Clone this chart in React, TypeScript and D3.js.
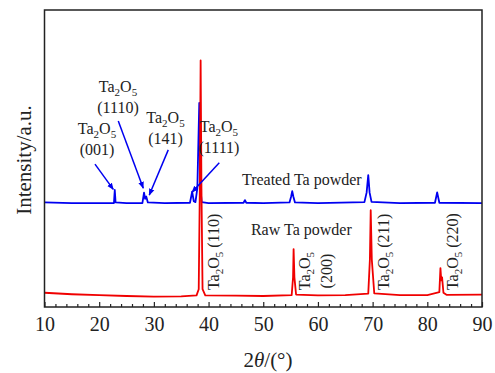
import React, { useEffect, useRef } from 'react';
import * as d3 from 'd3';

// XRD patterns: [2theta (deg), intensity (a.u.)]
const treatedPattern: [number, number][] = [
  [10, 35.2], [15, 35.0], [20, 35.0], [22.7, 35.0], [22.85, 39.4], [23.0, 35.2],
  [25, 35.0], [27.9, 35.0], [28.2, 38.5], [28.4, 36.4], [28.6, 37.2], [28.9, 35.2],
  [32, 35.0], [36.6, 35.1], [37.0, 38.8], [37.3, 35.6], [37.6, 35.3], [37.95, 40],
  [38.3, 68.7], [38.5, 40], [38.75, 35.3], [40, 35.0], [46.4, 35.1], [46.65, 36.0],
  [46.9, 35.1], [50, 35.0], [54.8, 35.2], [55.1, 37.2], [55.3, 39.0], [55.5, 37.2], [55.8, 35.2], [60, 35.0],
  [68.5, 35.3], [68.9, 38.5], [69.2, 44.4], [69.45, 38.5], [69.8, 35.4], [75, 35.0], [81.4, 35.1], [81.8, 38.6],
  [82.2, 35.1], [90, 35.0],
];

const rawPattern: [number, number][] = [
  [10, 4.8], [15, 4.3], [20, 4.0], [25, 3.7], [30, 3.5], [35, 3.6], [37.8, 3.9],
  [38.2, 6], [38.4, 40], [38.55, 83], [38.7, 40], [38.9, 6], [39.4, 3.9], [45, 3.8],
  [50, 3.7], [55.2, 4.0], [55.45, 10], [55.55, 19.5], [55.7, 10], [56.0, 4.2],
  [60, 3.9], [65, 4.0], [69.2, 4.5], [69.5, 16], [69.65, 32.6], [69.85, 16],
  [70.3, 4.6], [75, 4.0], [80, 4.0], [82.2, 5], [82.4, 13.1], [82.55, 9], [82.7, 10],
  [82.95, 4.8], [83.5, 4.1], [90, 4.2],
];

const xTicks = [10, 20, 30, 40, 50, 60, 70, 80, 90];
const xMinorTicks = d3.range(12, 90, 2).filter(v => v % 10 !== 0);

// treated-powder annotations: hkl, label anchor [2theta, I], arrow tail, arrow tip
const treatedHkl = ['(001)', '(1110)', '(141)', '(1111)'];
const treatedLabelAt: [number, number][] = [[19.6, 58.2], [23.44, 72.5], [32.12, 62.05], [41.9, 59.0]];
const treatedArrowFrom: [number, number][] = [[19.23, 48.1], [23.49, 62.6], [32.63, 52.9], [41.96, 48.6]];
const treatedArrowTo: [number, number][] = [[22.58, 39.6], [28.06, 40.0], [29.16, 37.7], [36.97, 38.6]];

// raw-powder annotations (rotated)
const rawHkl = ['(110)', '(200)', '(211)', '(220)'];
const rawLabelAt: [number, number][] = [[41.96, 5.7], [58.54, 12.1], [73.07, 5.7], [85.6, 5.7]];

const W = 495;
const H = 373;
const MARGIN = { top: 10, right: 13, bottom: 66, left: 44.5 };
const FONT = '"Liberation Serif", "Times New Roman", serif';
const TEXT = '#222';

const Ta2O5: React.FC<{ rest?: string }> = ({ rest }) => (
  <>
    <tspan>Ta</tspan>
    <tspan fontSize={11} dy={4}>2</tspan>
    <tspan dy={-4}>O</tspan>
    <tspan fontSize={11} dy={4}>5</tspan>
    {rest ? <tspan dy={-4}>{rest}</tspan> : null}
  </>
);

const App: React.FC = () => {
  const axisRef = useRef<SVGGElement | null>(null);

  const x = d3.scaleLinear().domain([10, 90]).range([MARGIN.left, W - MARGIN.right]);
  const y = d3.scaleLinear().domain([0, 100]).range([H - MARGIN.bottom, MARGIN.top]);
  const line = d3.line<[number, number]>().x(d => x(d[0])).y(d => y(d[1]));

  useEffect(() => {
    const g = d3.select(axisRef.current);
    g.selectAll('*').remove();
    g.append('g')
      .call(d3.axisBottom(x).tickValues(xTicks).tickSize(-5).tickPadding(10).tickFormat(d3.format('d')))
      .call(s => s.select('.domain').remove())
      .call(s => s.selectAll('text').attr('font-family', FONT).attr('font-size', 20).attr('fill', TEXT))
      .call(s => s.selectAll('line').attr('stroke', '#222').attr('stroke-width', 1.2));
    g.append('g')
      .call(d3.axisBottom(x).tickValues(xMinorTicks).tickSize(-3).tickFormat(() => ''))
      .call(s => s.select('.domain').remove())
      .call(s => s.selectAll('line').attr('stroke', '#222').attr('stroke-width', 1.2));
  }, []);

  const plotBottom = H - MARGIN.bottom;

  return (
    <svg width={W} height={H} style={{ position: 'absolute', left: 0, top: 0, background: '#fff' }}>
      <defs>
        <marker id="arrowhead" viewBox="0 0 10 10" refX="9" refY="5" markerWidth="7" markerHeight="7"
          orient="auto-start-reverse" markerUnits="userSpaceOnUse">
          <path d="M0,1 L10,5 L0,9 z" fill="#0000f0" />
        </marker>
      </defs>

      <path d={line(treatedPattern) ?? ''} fill="none" stroke="#0000f0" strokeWidth={1.8} strokeLinejoin="round" />
      <path d={line(rawPattern) ?? ''} fill="none" stroke="#f00000" strokeWidth={1.8} strokeLinejoin="round" />

      {treatedHkl.map((hkl, i) => (
        <g key={hkl} fontFamily={FONT} fontSize={16} fill={TEXT} textAnchor="middle">
          <text x={x(treatedLabelAt[i][0])} y={y(treatedLabelAt[i][1])}><Ta2O5 /></text>
          <text x={x(treatedLabelAt[i][0])} y={y(treatedLabelAt[i][1]) + 21}>{hkl}</text>
          <line x1={x(treatedArrowFrom[i][0])} y1={y(treatedArrowFrom[i][1])}
            x2={x(treatedArrowTo[i][0])} y2={y(treatedArrowTo[i][1])}
            stroke="#0000f0" strokeWidth={1.5} markerEnd="url(#arrowhead)" />
        </g>
      ))}

      {rawHkl.map((hkl, i) => {
        const px = x(rawLabelAt[i][0]);
        const py = y(rawLabelAt[i][1]);
        if (hkl === '(200)') {
          return (
            <g key={hkl} fontFamily={FONT} fontSize={16} fill={TEXT} textAnchor="middle">
              <text transform={`translate(${px},${py}) rotate(-90)`}><Ta2O5 /></text>
              <text transform={`translate(${px + 22},${py}) rotate(-90)`}>{hkl}</text>
            </g>
          );
        }
        return (
          <text key={hkl} transform={`translate(${px},${py}) rotate(-90)`} fontFamily={FONT} fontSize={16} fill={TEXT}>
            <Ta2O5 rest={` ${hkl}`} />
          </text>
        );
      })}

      <text x={x(46.1)} y={y(41.2)} fontFamily={FONT} fontSize={16} fill={TEXT}>Treated Ta powder</text>
      <text x={x(47.75)} y={y(24.2)} fontFamily={FONT} fontSize={16} fill={TEXT}>Raw Ta powder</text>

      <rect x={MARGIN.left} y={MARGIN.top} width={W - MARGIN.right - MARGIN.left} height={plotBottom - MARGIN.top}
        fill="none" stroke="#222" strokeWidth={1.5} />
      <g ref={axisRef} transform={`translate(0,${plotBottom})`} />

      <text x={268} y={367} textAnchor="middle" fontFamily={FONT} fontSize={21} fill={TEXT}>
        2<tspan fontStyle="italic">θ</tspan>/(°)
      </text>
      <text transform={`translate(31,160) rotate(-90)`} textAnchor="middle" fontFamily={FONT} fontSize={21} fill={TEXT}>
        Intensity/a.u.
      </text>
    </svg>
  );
};

export default App;
